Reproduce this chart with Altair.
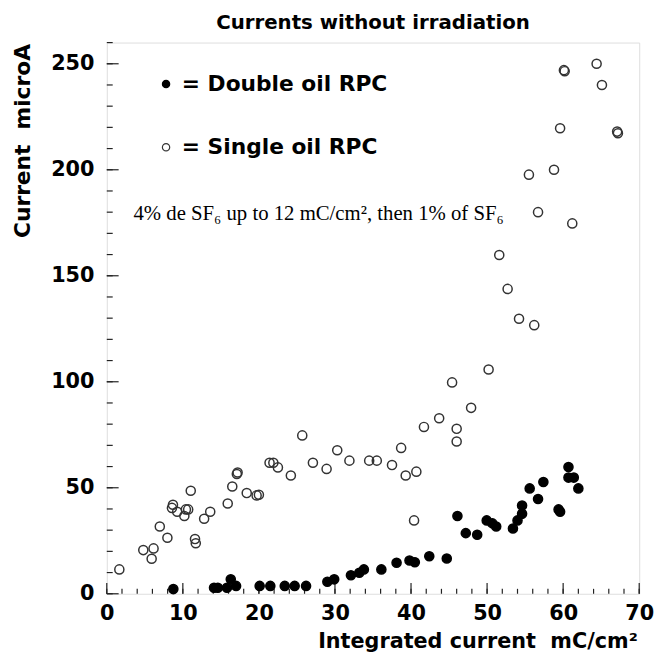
import altair as alt
import pandas as pd

# ---- data ----
double_x = [8.75, 14.1, 14.6, 15.8, 16.3, 17.0, 20.1, 21.5, 23.4, 24.7, 26.2, 29.0, 29.9,
            32.1, 33.2, 33.8, 36.1, 38.1, 39.8, 40.5, 42.4, 44.7, 46.1, 47.2, 48.7, 49.95,
            50.7, 51.2, 53.4, 54.0, 54.6, 54.6, 55.6, 56.7, 57.4, 59.4, 59.6, 60.7, 60.7,
            61.4, 62.0]
double_y = [2.2, 2.8, 2.8, 2.8, 6.8, 3.7, 3.7, 3.7, 3.7, 3.7, 3.7, 5.7, 6.8,
            8.7, 9.9, 11.5, 11.5, 14.6, 15.7, 14.9, 17.7, 16.6, 36.7, 28.6, 27.8, 34.6,
            33.2, 31.7, 30.8, 34.6, 37.7, 41.6, 49.7, 44.7, 52.7, 39.8, 38.7, 59.8, 54.8,
            54.8, 49.7]

single_x = [1.65, 4.8, 5.9, 6.15, 6.97, 7.97, 8.7, 8.57, 9.26, 10.2, 10.4, 10.7, 11.04,
            11.6, 11.7, 12.8, 13.6, 15.9, 16.5, 17.1, 17.2, 18.4, 19.7, 20.0, 21.4, 21.9,
            22.5, 24.2, 25.7, 27.1, 28.9, 30.3, 31.9, 34.5, 35.5, 37.5, 38.7, 39.3, 40.7,
            40.4, 41.7, 43.7, 45.4, 46.0, 46.0, 47.9, 50.2, 51.6, 52.7, 54.2, 56.2, 55.5,
            58.8, 56.7, 61.2, 59.6, 60.1, 60.2, 64.4, 65.1, 67.1, 67.2]
single_y = [11.5, 20.6, 16.5, 21.4, 31.7, 26.4, 42.0, 40.5, 38.7, 36.7, 39.8, 39.8, 48.6,
            25.8, 23.8, 35.4, 38.7, 42.6, 50.6, 56.5, 57.2, 47.5, 46.4, 46.7, 61.8, 61.8,
            59.6, 55.8, 74.7, 61.8, 58.9, 67.7, 62.8, 62.8, 62.8, 60.7, 68.8, 55.8, 57.6,
            34.6, 78.7, 82.8, 99.7, 77.8, 71.8, 87.7, 105.8, 159.8, 143.8, 129.7, 126.7, 197.7,
            200.0, 180.0, 174.7, 219.6, 247.0, 246.5, 250.0, 240.0, 218.0, 217.2]

series_names = ["Double oil RPC", "Single oil RPC"]

x_major = [0, 10, 20, 30, 40, 50, 60, 70]
x_minor = [0, 2, 4, 6, 8, 10, 12, 14, 16, 18, 20, 22, 24, 26, 28, 30, 32, 34, 36, 38,
           40, 42, 44, 46, 48, 50, 52, 54, 56, 58, 60, 62, 64, 66, 68, 70]
y_major = [0, 50, 100, 150, 200, 250]
y_minor = [0, 10, 20, 30, 40, 50, 60, 70, 80, 90, 100, 110, 120, 130, 140, 150, 160,
           170, 180, 190, 200, 210, 220, 230, 240, 250, 260]

title_text = "Currents without irradiation"
x_title = "Integrated current\u00a0\u00a0mC/cm\u00b2"
y_title = "Current\u00a0\u00a0microA"
note_text = "4% de SF\u2086 up to 12 mC/cm\u00b2, then 1% of SF\u2086"

# ---- build tables ----
pts = pd.DataFrame({
    "x": double_x + single_x,
    "y": double_y + single_y,
    "series": [series_names[0]] * len(double_x) + [series_names[1]] * len(single_x),
})

W, H = 539, 558
FONT = "DejaVu Sans"

xscale = alt.Scale(domain=[0, 70], nice=False, zero=False)
yscale = alt.Scale(domain=[0, 260], nice=False, zero=False)

x_axis = alt.Axis(values=x_major, ticks=False, domain=False, grid=False,
                  labelFont=FONT, labelFontWeight="bold", labelFontSize=21,
                  labelColor="black", labelPadding=9, labelFlush=False,
                  title=x_title, titleFont=FONT, titleFontWeight="bold",
                  titleFontSize=21, titleColor="black", titleAlign="right",
                  titleAnchor="end", titleX=W - 2, titleY=54,
                  titleBaseline="alphabetic")
y_axis = alt.Axis(values=y_major, ticks=False, domain=False, grid=False,
                  labelFont=FONT, labelFontWeight="bold", labelFontSize=21,
                  labelColor="black", labelPadding=13, labelFlush=False,
                  title=y_title, titleFont=FONT, titleFontWeight="bold",
                  titleFontSize=22, titleColor="black", titleAngle=270,
                  titleAlign="right", titleBaseline="middle",
                  titleX=-85, titleY=1)

legend = alt.Legend(orient="none", legendX=49, legendY=31, title=None,
                    labelFont=FONT, labelFontWeight="bold", labelFontSize=22,
                    labelColor="black", labelExpr="'= ' + datum.label",
                    labelLimit=0,
                    symbolSize=55, symbolStrokeWidth=1.2, rowPadding=42,
                    labelOffset=5, padding=0, symbolType="circle")

points = alt.Chart(pts).mark_point(shape="circle", size=85, strokeWidth=1.5, opacity=1).encode(
    x=alt.X("x:Q", scale=xscale, axis=x_axis),
    y=alt.Y("y:Q", scale=yscale, axis=y_axis),
    fill=alt.Fill("series:N", scale=alt.Scale(domain=series_names, range=["#000000", "transparent"]),
                  legend=legend),
    stroke=alt.Stroke("series:N", scale=alt.Scale(domain=series_names, range=["#000000", "#333333"]),
                      legend=legend),
)

def xticks(vals, length):
    return alt.Chart(pd.DataFrame({"t": vals})).mark_rule(color="#222", strokeWidth=1.2).encode(
        x=alt.X("t:Q", scale=xscale), y=alt.value(H), y2=alt.value(H - length))

def yticks(vals, length):
    return alt.Chart(pd.DataFrame({"t": vals})).mark_rule(color="#222", strokeWidth=1.2).encode(
        y=alt.Y("t:Q", scale=yscale), x=alt.value(0), x2=alt.value(length))

note = alt.Chart(pd.DataFrame({"t": [note_text]})).mark_text(
    font="Liberation Serif, DejaVu Serif, serif", fontSize=21, align="left",
    baseline="middle", color="black"
).encode(text="t:N", x=alt.value(27), y=alt.value(174))

chart = alt.layer(
    xticks(x_minor, 5), xticks(x_major, 11), yticks(y_minor, 6), yticks(y_major, 12),
    points, note
).properties(
    width=W, height=H,
    title=alt.TitleParams(title_text, font=FONT, fontWeight="bold", fontSize=20,
                          color="black", anchor="middle", offset=9),
    autosize=alt.AutoSizeParams(type="none"),
    padding={"left": 100, "top": 31, "right": 17, "bottom": 58},
).configure_view(stroke="#222", strokeWidth=1.3).configure(background="white")

chart.save("out.html", embed_options={"renderer": "svg", "actions": False})
